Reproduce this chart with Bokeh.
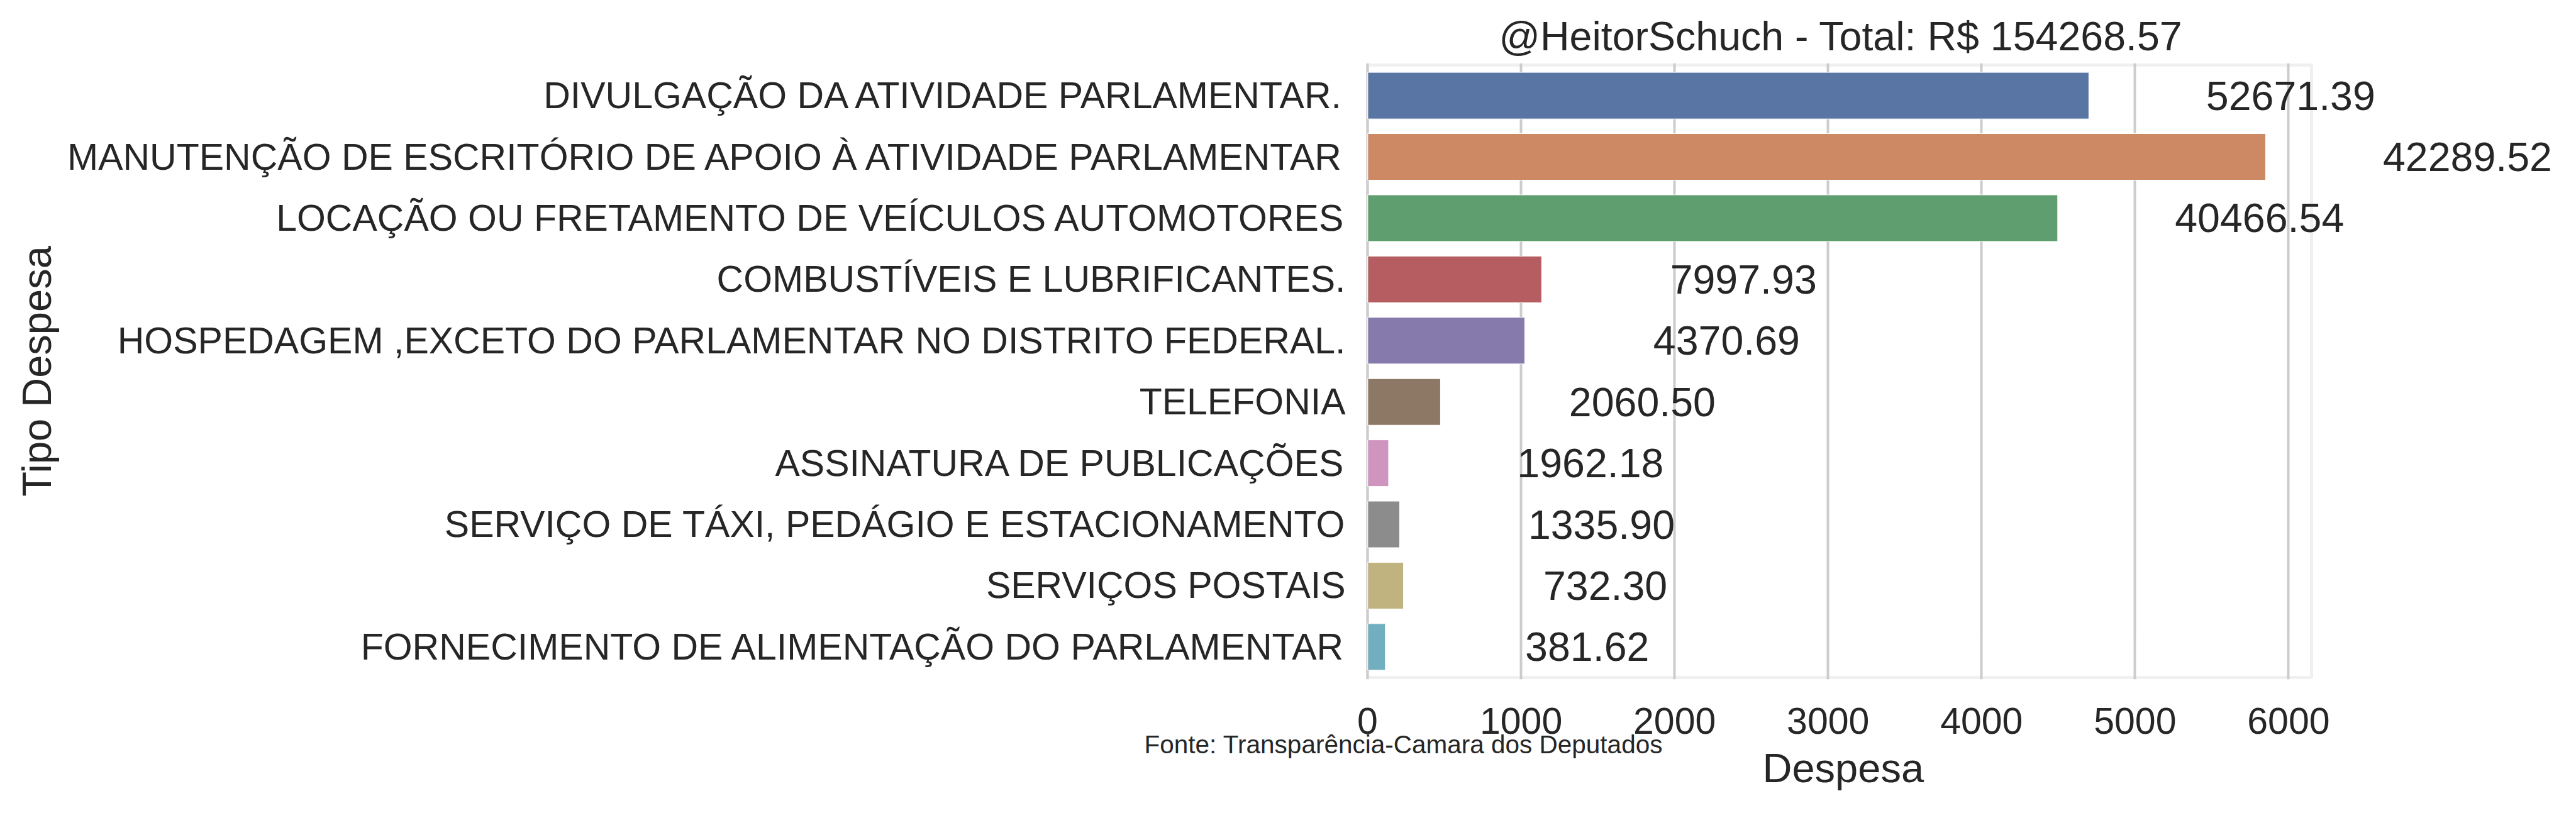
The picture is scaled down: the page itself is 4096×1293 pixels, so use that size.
from bokeh.plotting import figure
from bokeh.models import (FactorRange, Range1d, ColumnDataSource, LabelSet,
                          FixedTicker, BoxAnnotation, Title)
from bokeh.embed import file_html
from bokeh.resources import INLINE
from bokeh.core.properties import value

# ---- data ----
categories = [
    "DIVULGAÇÃO DA ATIVIDADE PARLAMENTAR.",
    "MANUTENÇÃO DE ESCRITÓRIO DE APOIO À ATIVIDADE PARLAMENTAR",
    "LOCAÇÃO OU FRETAMENTO DE VEÍCULOS AUTOMOTORES",
    "COMBUSTÍVEIS E LUBRIFICANTES.",
    "HOSPEDAGEM ,EXCETO DO PARLAMENTAR NO DISTRITO FEDERAL.",
    "TELEFONIA",
    "ASSINATURA DE PUBLICAÇÕES",
    "SERVIÇO DE TÁXI, PEDÁGIO E ESTACIONAMENTO",
    "SERVIÇOS POSTAIS",
    "FORNECIMENTO DE ALIMENTAÇÃO DO PARLAMENTAR",
]
bar_values = [4699, 5851, 4496, 1134, 1024, 475, 137, 209, 234, 116]
totals = [52671.39, 42289.52, 40466.54, 7997.93, 4370.69, 2060.50,
          1962.18, 1335.90, 732.30, 381.62]
x_ticks = [0, 1000, 2000, 3000, 4000, 5000, 6000]
title_text = "@HeitorSchuch - Total: R$ 154268.57"
source_text = "Fonte: Transparência-Camara dos Deputados"
x_label = "Despesa"
y_label = "Tipo Despesa"

# ---- style / layout ----
palette = ["#5975a4", "#cc8963", "#5f9e6e", "#b55d60", "#857aab",
           "#8d7866", "#d095bf", "#8c8c8c", "#c1b37f", "#71aec0"]
FONT = "Liberation Sans"
TXT = "#262626"
GRID = "#cccccc"
LABEL_OFFSET = 1315          # value label centre = bar end + offset

W, H = 4080, 1277
XMAX = 6150                  # visible axes box: 0 .. XMAX
PLOT_LEFT = 2174             # px of x=0
PLOT_W = 1501                # px width of visible axes box
PAD = 3                      # px so the box border is not clipped
FRAME_RIGHT = 4075
TOP_BORDER = 100
FRAME_H = 980
ppu = PLOT_W / XMAX
frame_left = PLOT_LEFT - PAD
x_start = -PAD / ppu
x_end = (FRAME_RIGHT - PLOT_LEFT) / ppu

# left edges (px) of texts placed in the side panels
TITLE_LEFT = 2383
XLABEL_LEFT = 2802
SOURCE_LEFT = 1819

src = ColumnDataSource(dict(
    cat=categories,
    val=bar_values,
    color=palette,
    label=[f"{t:.2f}" for t in totals],
    label_x=[v + LABEL_OFFSET for v in bar_values],
))

p = figure(width=W, height=H,
           y_range=FactorRange(factors=categories[::-1], range_padding=0.006,
                               range_padding_units="percent"),
           x_range=Range1d(x_start, x_end),
           output_backend="svg", toolbar_location=None,
           min_border_left=frame_left, min_border_right=W - FRAME_RIGHT,
           min_border_top=TOP_BORDER,
           min_border_bottom=H - TOP_BORDER - FRAME_H)

p.background_fill_color = "white"
p.border_fill_color = "white"
p.outline_line_color = None

# grid
p.ygrid.grid_line_color = None
p.xgrid.ticker = FixedTicker(ticks=x_ticks)
p.xgrid.grid_line_color = GRID
p.xgrid.grid_line_width = 4

p.hbar(y="cat", left=0, right="val", height=0.76, fill_color="color",
       line_color="white", line_width=1, source=src)

# visible axes box
p.add_layout(BoxAnnotation(left=0, right=XMAX, bottom=0, top=len(categories),
                           fill_color=None, fill_alpha=0,
                           line_color=GRID, line_width=5))

labels = LabelSet(x="label_x", y="cat", text="label", source=src,
                  text_align="center", text_baseline="middle",
                  text_font_size="64.5px", text_color=TXT,
                  text_font=value(FONT))
p.add_layout(labels)

# axes
for ax in (p.xaxis[0], p.yaxis[0]):
    ax.axis_line_color = None
    ax.major_tick_line_color = None
    ax.minor_tick_line_color = None
    ax.major_tick_out = 0
    ax.major_tick_in = 0
    ax.minor_tick_out = 0
    ax.minor_tick_in = 0
    ax.major_label_text_font = FONT
    ax.major_label_text_color = TXT
    ax.major_label_text_font_size = "59px"
    ax.axis_label_text_font = FONT
    ax.axis_label_text_color = TXT
    ax.axis_label_text_font_size = "65px"
    ax.axis_label_text_font_style = "normal"

p.xaxis.ticker = FixedTicker(ticks=x_ticks)
p.xaxis.major_label_standoff = 45

p.yaxis.axis_label = y_label
p.yaxis.major_label_standoff = 32
p.yaxis.axis_label_standoff = 9

# title (top)
p.title.text = title_text
p.title.align = "left"
p.title.offset = TITLE_LEFT - frame_left
p.title.vertical_align = "top"
p.title.standoff = 9
p.title.text_font = FONT
p.title.text_font_size = "64.5px"
p.title.text_font_style = "normal"
p.title.text_color = TXT

# source note and x label below
fonte = Title(text=source_text, align="left", offset=SOURCE_LEFT - frame_left,
              vertical_align="bottom", standoff=-22,
              text_font=FONT, text_font_size="40.5px",
              text_font_style="normal", text_color=TXT)
p.add_layout(fonte, "below")
xlab = Title(text=x_label, align="left", offset=XLABEL_LEFT - frame_left,
             vertical_align="bottom", standoff=-26,
             text_font=FONT, text_font_size="65px",
             text_font_style="normal", text_color=TXT)
p.add_layout(xlab, "below")

open("out.html", "w").write(file_html(p, INLINE))
